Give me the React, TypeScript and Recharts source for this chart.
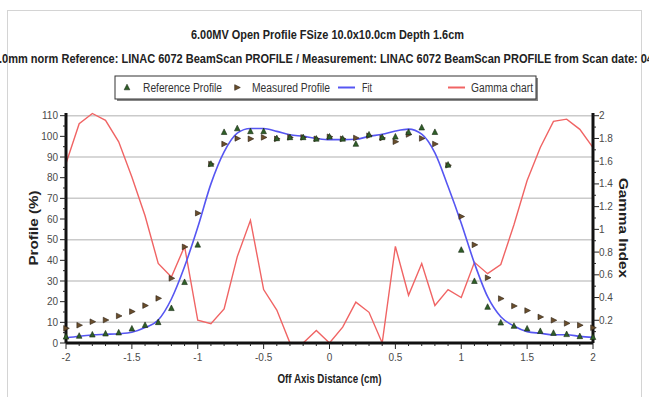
import { ComposedChart, Line, Scatter, XAxis, YAxis, ReferenceLine } from 'recharts';

// off-axis distance (cm), one sample every 0.1 cm
const DISTANCE = [
  -2, -1.9, -1.8, -1.7, -1.6, -1.5, -1.4, -1.3, -1.2, -1.1, -1, -0.9, -0.8, -0.7, -0.6, -0.5, -0.4, -0.3, -0.2, -0.1,
  0, 0.1, 0.2, 0.3, 0.4, 0.5, 0.6, 0.7, 0.8, 0.9, 1, 1.1, 1.2, 1.3, 1.4, 1.5, 1.6, 1.7, 1.8, 1.9, 2,
];
const REFERENCE_PROFILE = [
  3, 3.4, 4, 4.5, 5, 6.9, 8.6, 10, 16.8, 29.4, 47.5, 86.6, 102, 103.8, 102.4, 102.4, 99, 99.5, 99.5, 98.8,
  99.8, 98.8, 96.3, 100.8, 99.5, 99.8, 102, 104.2, 102, 86.2, 45, 29.9, 17.4, 9.8, 8.2, 6.9, 5.7, 4.8, 4.2, 3.2, 2.8,
];
const MEASURED_PROFILE = [
  7.1, 8.6, 10.3, 11.1, 13.1, 15.2, 18.1, 21.6, 31.3, 46.5, 62.8, 86.6, 96.3, 99, 98.8, 99.5, 98.8, 99.5, 99.5, 98.8,
  99.8, 98.8, 99.2, 100.3, 99.2, 97.4, 100.9, 99, 96.3, 86, 61.2, 47.5, 31.6, 21.5, 17.9, 15.7, 12.6, 11, 9.5, 8.6, 7.4,
];
const FIT = [
  2.5, 3.3, 3.9, 4.2, 4.5, 5.2, 7.5, 11.1, 21.3, 37, 56, 77, 92.5, 101.6, 103.8, 103.8, 102.4, 100.8, 100, 99,
  98.4, 98.4, 98.6, 100, 101, 102.6, 103.5, 101.1, 92, 75.7, 58, 38.6, 22.4, 12.7, 8.2, 5.5, 4.7, 4, 4, 3.2, 2.7,
];
const GAMMA = [
  1.58, 1.93, 2.02, 1.96, 1.77, 1.46, 1.12, 0.7, 0.58, 0.85, 0.2, 0.17, 0.3, 0.76, 1.08, 0.47, 0.29, 0, 0, 0.11,
  0, 0.14, 0.36, 0.27, 0, 0.85, 0.42, 0.7, 0.33, 0.47, 0.4, 0.71, 0.61, 0.69, 1.04, 1.43, 1.72, 1.95, 1.97, 1.88, 1.72,
];

const X_TICKS = DISTANCE;
const PROFILE_TICKS = [0, 5, 10, 15, 20, 25, 30, 35, 40, 45, 50, 55, 60, 65, 70, 75, 80, 85, 90, 95, 100, 105, 110];
const GAMMA_TICKS = [0.1, 0.2, 0.3, 0.4, 0.5, 0.6, 0.7, 0.8, 0.9, 1, 1.1, 1.2, 1.3, 1.4, 1.5, 1.6, 1.7, 1.8, 1.9, 2];
const GRID_LINES = [10, 30, 50, 70, 90, 110];

const TITLE = '6.00MV  Open Profile FSize 10.0x10.0cm Depth 1.6cm';
const SUBTITLE =
  '.0mm norm  Reference: LINAC 6072 BeamScan PROFILE  / Measurement: LINAC 6072 BeamScan PROFILE from Scan date: 04';

const data = DISTANCE.map((x, i) => ({
  x,
  ref: REFERENCE_PROFILE[i],
  meas: MEASURED_PROFILE[i],
  fit: FIT[i],
  gamma: GAMMA[i],
}));

const W = 649;
const H = 397;
const PLOT_LEFT = 66;
const PLOT_RIGHT = 593;
const PLOT_TOP = 113;
const PLOT_BOTTOM = 343;

const TICK_FONT = "'Liberation Sans Narrow', 'Arial Narrow', 'Liberation Sans', Arial, sans-serif";
const BOLD_FONT = "'Liberation Sans', Arial, sans-serif";
const TICK_COLOR = '#4a4a4a';

const REF_COLOR = '#2f5f28';
const MEAS_COLOR = '#6a4e2c';
const FIT_COLOR = '#5656f2';
const GAMMA_COLOR = '#f06464';

const near = (a: number, b: number) => Math.abs(a - b) < 1e-6;

function UpTriangle({ cx, cy }: any) {
  if (cx == null || cy == null) return null;
  return (
    <polygon
      points={`${cx},${cy - 3.3} ${cx - 2.8},${cy + 2.3} ${cx + 2.8},${cy + 2.3}`}
      fill={REF_COLOR}
      stroke="#1a2a14"
      strokeWidth={0.6}
    />
  );
}

function RightTriangle({ cx, cy }: any) {
  if (cx == null || cy == null) return null;
  return (
    <polygon
      points={`${cx + 3.3},${cy} ${cx - 2.3},${cy - 2.8} ${cx - 2.3},${cy + 2.8}`}
      fill={MEAS_COLOR}
      stroke="#2a1e10"
      strokeWidth={0.6}
    />
  );
}

function DistanceTick({ x, payload }: any) {
  const v = payload.value;
  const major = near(v * 2, Math.round(v * 2));
  return (
    <g>
      <line x1={x} x2={x} y1={PLOT_BOTTOM} y2={PLOT_BOTTOM + (major ? 6 : 3)} stroke="#222" />
      {major && (
        <text x={x} y={361} textAnchor="middle" fontSize={10} fontFamily={TICK_FONT} fill={TICK_COLOR}>
          {String(v)}
        </text>
      )}
    </g>
  );
}

function ProfileTick({ y, payload }: any) {
  const v = payload.value;
  const major = v % 10 === 0;
  return (
    <g>
      <line x1={PLOT_LEFT - (major ? 6 : 3)} x2={PLOT_LEFT} y1={y} y2={y} stroke="#222" />
      {major && (
        <text x={58} y={y + 3.5} textAnchor="end" fontSize={10} fontFamily={TICK_FONT} fill={TICK_COLOR}>
          {String(v)}
        </text>
      )}
    </g>
  );
}

function GammaTick({ y, payload }: any) {
  const v = payload.value;
  const major = near(v * 5, Math.round(v * 5));
  return (
    <g>
      <line x1={PLOT_RIGHT} x2={PLOT_RIGHT + (major ? 6 : 3)} y1={y} y2={y} stroke="#222" />
      {major && (
        <text x={599} y={y + 3.5} textAnchor="start" fontSize={10} fontFamily={TICK_FONT} fill={TICK_COLOR}>
          {String(Math.round(v * 10) / 10)}
        </text>
      )}
    </g>
  );
}

function AxisTitle({ viewBox, text, rot = 0, len, shiftX = 0, shiftY = 0 }: any) {
  const cx = viewBox.x + viewBox.width / 2 + shiftX;
  const cy = viewBox.y + viewBox.height / 2 + shiftY;
  return (
    <text
      x={cx}
      y={cy}
      transform={rot ? `rotate(${rot} ${cx} ${cy})` : undefined}
      textAnchor="middle"
      dominantBaseline="central"
      fontSize={13}
      fontWeight="bold"
      fontFamily={BOLD_FONT}
      fill="#222"
      textLength={len}
      lengthAdjust="spacingAndGlyphs"
    >
      {text}
    </text>
  );
}

function Header() {
  const lx = 115;
  const ly = 76;
  return (
    <svg width={W} height={110} style={{ position: 'absolute', left: 0, top: 0 }}>
      <text x={191} y={39} fontSize={12.5} fontWeight="bold" fontFamily={BOLD_FONT} fill="#222"
        textLength={273} lengthAdjust="spacingAndGlyphs">
        {TITLE}
      </text>
      <text x={-1} y={63} fontSize={12.5} fontWeight="bold" fontFamily={BOLD_FONT} fill="#222"
        textLength={654} lengthAdjust="spacingAndGlyphs">
        {SUBTITLE}
      </text>
      {/* legend box with shadow */}
      <rect x={lx + 2} y={ly + 2} width={421} height={23} fill="#888" />
      <rect x={lx} y={ly} width={421} height={23} fill="#fff" stroke="#333" />
      <UpTriangle cx={127} cy={87.5} />
      <text x={143} y={92} fontSize={12} fontFamily={BOLD_FONT} fill="#333" textLength={79} lengthAdjust="spacingAndGlyphs">
        Reference Profile
      </text>
      <RightTriangle cx={237} cy={87.5} />
      <text x={252} y={92} fontSize={12} fontFamily={BOLD_FONT} fill="#333" textLength={78} lengthAdjust="spacingAndGlyphs">
        Measured Profile
      </text>
      <line x1={338} x2={355} y1={87.5} y2={87.5} stroke={FIT_COLOR} strokeWidth={2} />
      <text x={362} y={92} fontSize={12} fontFamily={BOLD_FONT} fill="#333" textLength={10} lengthAdjust="spacingAndGlyphs">
        Fit
      </text>
      <line x1={448} x2={465} y1={87.5} y2={87.5} stroke={GAMMA_COLOR} strokeWidth={2} />
      <text x={471} y={92} fontSize={12} fontFamily={BOLD_FONT} fill="#333" textLength={62} lengthAdjust="spacingAndGlyphs">
        Gamma chart
      </text>
    </svg>
  );
}

export default function App() {
  return (
    <div style={{ position: 'absolute', left: 0, top: 0, width: W, height: H, background: '#fff', overflow: 'hidden' }}>
      <svg width={W} height={H} style={{ position: 'absolute', left: 0, top: 0 }}>
        <rect x={7.5} y={10.5} width={634} height={400} fill="none" stroke="#d4d4d4" />
      </svg>
      <div style={{ position: 'absolute', left: 0, top: 0 }}>
        <ComposedChart width={W} height={H} data={data} margin={{ top: PLOT_TOP, right: 0, bottom: 0, left: 0 }}>
          <XAxis
            xAxisId="bottom"
            dataKey="x"
            type="number"
            domain={[-2, 2]}
            ticks={X_TICKS}
            interval={0}
            height={H - PLOT_BOTTOM}
            tickLine={false}
            tick={<DistanceTick />}
            axisLine={{ stroke: '#111', strokeWidth: 3 }}
            label={<AxisTitle text="Off Axis Distance (cm)" len={104} shiftY={8} />}
          />
          <XAxis
            xAxisId="top"
            orientation="top"
            dataKey="x"
            type="number"
            domain={[-2, 2]}
            height={0}
            tick={false}
            tickLine={false}
            axisLine={{ stroke: '#111', strokeWidth: 2.5 }}
          />
          <YAxis
            yAxisId="left"
            type="number"
            domain={[0, 111.3]}
            ticks={PROFILE_TICKS}
            interval={0}
            width={PLOT_LEFT}
            tickLine={false}
            tick={<ProfileTick />}
            axisLine={{ stroke: '#111', strokeWidth: 3 }}
            label={<AxisTitle text="Profile (%)" rot={-90} len={75} />}
          />
          <YAxis
            yAxisId="right"
            orientation="right"
            type="number"
            domain={[0, 2.024]}
            ticks={GAMMA_TICKS}
            interval={0}
            width={W - PLOT_RIGHT}
            tickLine={false}
            tick={<GammaTick />}
            axisLine={{ stroke: '#111', strokeWidth: 3 }}
            label={<AxisTitle text="Gamma Index" rot={90} len={100} shiftX={2} />}
          />
          {GRID_LINES.map((v) => (
            <ReferenceLine key={v} xAxisId="bottom" yAxisId="left" y={v} stroke="#cacaca" strokeWidth={1.5} />
          ))}
          <Line
            xAxisId="bottom"
            yAxisId="right"
            dataKey="gamma"
            name="Gamma chart"
            type="linear"
            stroke={GAMMA_COLOR}
            strokeWidth={1.4}
            dot={false}
            isAnimationActive={false}
          />
          <Line
            xAxisId="bottom"
            yAxisId="left"
            dataKey="fit"
            name="Fit"
            type="monotone"
            stroke={FIT_COLOR}
            strokeWidth={1.6}
            dot={false}
            isAnimationActive={false}
          />
          <Scatter
            xAxisId="bottom"
            yAxisId="left"
            dataKey="meas"
            name="Measured Profile"
            shape={<RightTriangle />}
            isAnimationActive={false}
          />
          <Scatter
            xAxisId="bottom"
            yAxisId="left"
            dataKey="ref"
            name="Reference Profile"
            shape={<UpTriangle />}
            isAnimationActive={false}
          />
        </ComposedChart>
      </div>
      <Header />
    </div>
  );
}
